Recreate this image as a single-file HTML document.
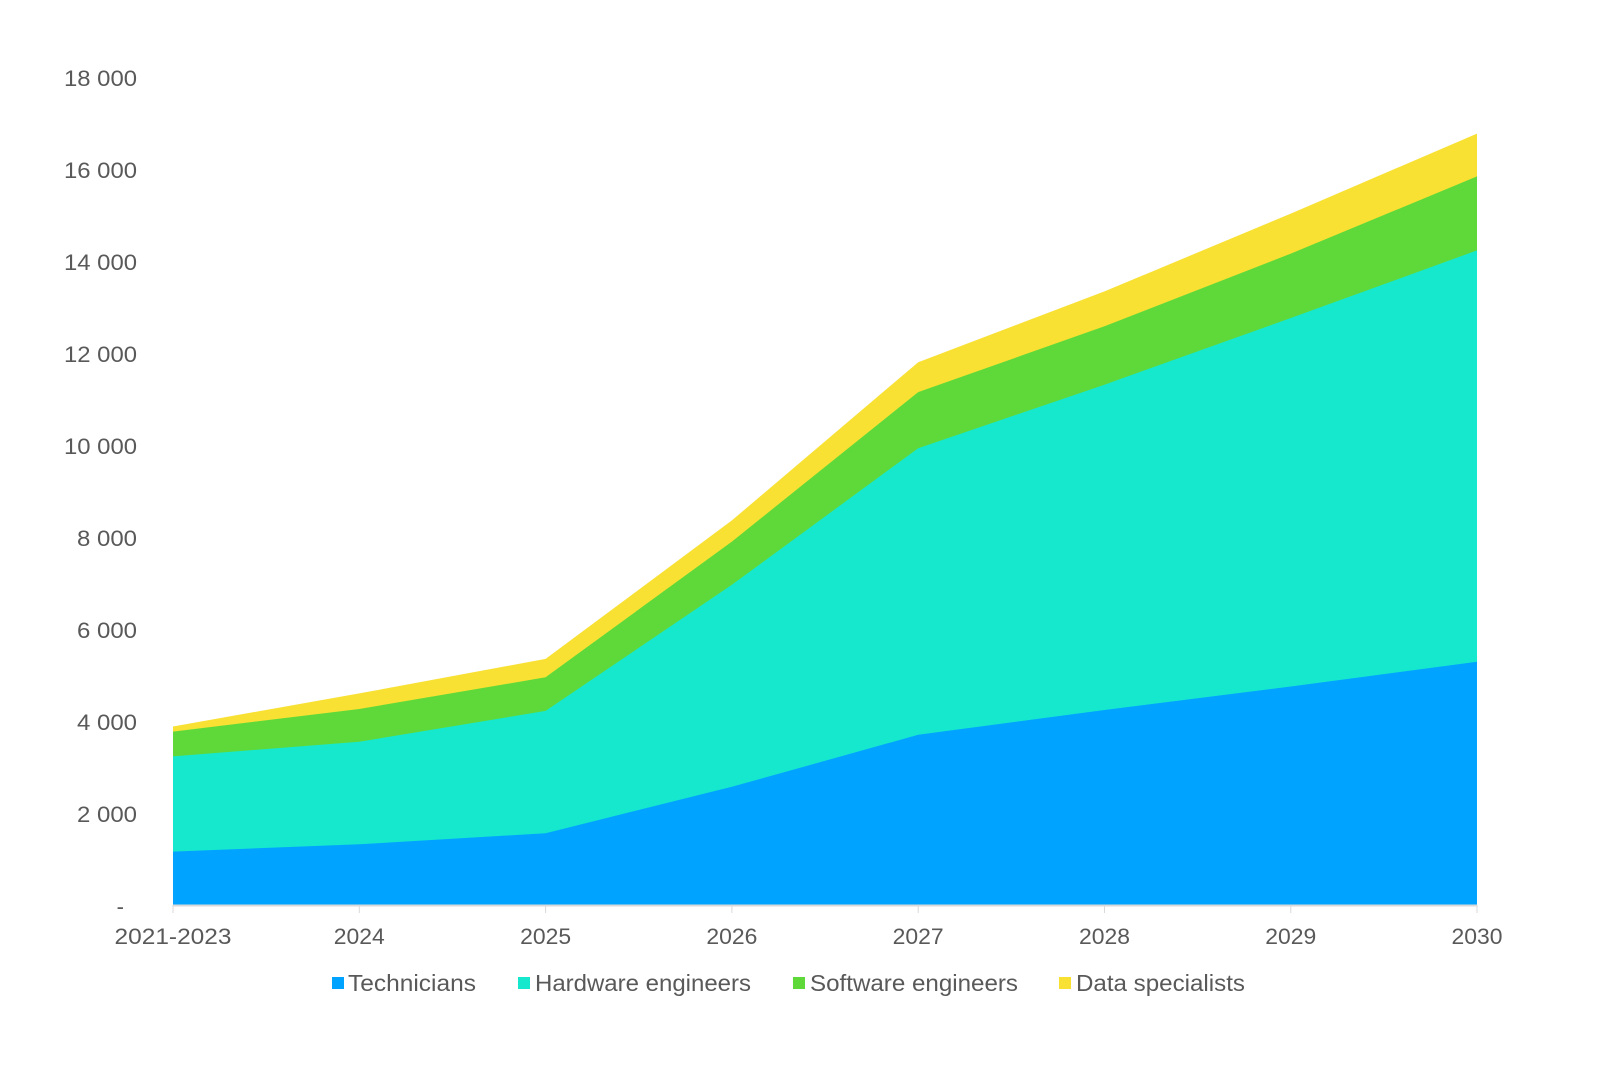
<!DOCTYPE html>
<html><head><meta charset="utf-8"><style>
html,body{margin:0;padding:0;background:#fff;}
svg{display:block;font-family:"Liberation Sans",Arial,sans-serif;}
</style></head><body>
<svg width="1609" height="1066" viewBox="0 0 1609 1066">
<polygon fill="#F8E133" points="173,726.5 359.3,693.4 545.6,658.9 731.9,520.4 918.2,362.2 1104.5,291.4 1290.8,213.6 1477,133.6 1477,905 173,905"/>
<polygon fill="#5FD93A" points="173,731.6 359.3,709 545.6,677.3 731.9,541.6 918.2,392.1 1104.5,326.3 1290.8,253.6 1477,176.4 1477,905 173,905"/>
<polygon fill="#16E8CE" points="173,756.4 359.3,741.7 545.6,710.9 731.9,584.8 918.2,448.2 1104.5,384.7 1290.8,318 1477,250.4 1477,905 173,905"/>
<polygon fill="#00A3FF" points="173,851.6 359.3,844.3 545.6,833.2 731.9,786.8 918.2,734.8 1104.5,710 1290.8,686.5 1477,661.7 1477,905 173,905"/>
<line x1="173" y1="905.5" x2="1477" y2="905.5" stroke="#d9d9d9" stroke-width="2"/>
<g stroke="#d9d9d9" stroke-width="1">
<line x1="173" y1="905" x2="173" y2="913"/><line x1="359.3" y1="905" x2="359.3" y2="913"/><line x1="545.6" y1="905" x2="545.6" y2="913"/><line x1="731.9" y1="905" x2="731.9" y2="913"/><line x1="918.2" y1="905" x2="918.2" y2="913"/><line x1="1104.5" y1="905" x2="1104.5" y2="913"/><line x1="1290.8" y1="905" x2="1290.8" y2="913"/><line x1="1477" y1="905" x2="1477" y2="913"/>
</g>
<g fill="#595959" font-size="22" text-anchor="end" lengthAdjust="spacingAndGlyphs">
<text x="137" y="86" textLength="73" lengthAdjust="spacingAndGlyphs">18 000</text>
<text x="137" y="178" textLength="73" lengthAdjust="spacingAndGlyphs">16 000</text>
<text x="137" y="270" textLength="73" lengthAdjust="spacingAndGlyphs">14 000</text>
<text x="137" y="362" textLength="73" lengthAdjust="spacingAndGlyphs">12 000</text>
<text x="137" y="454" textLength="73" lengthAdjust="spacingAndGlyphs">10 000</text>
<text x="137" y="546" textLength="60" lengthAdjust="spacingAndGlyphs">8 000</text>
<text x="137" y="638" textLength="60" lengthAdjust="spacingAndGlyphs">6 000</text>
<text x="137" y="730" textLength="60" lengthAdjust="spacingAndGlyphs">4 000</text>
<text x="137" y="822" textLength="60" lengthAdjust="spacingAndGlyphs">2 000</text>
<text x="124" y="914">-</text>
</g>
<g fill="#595959" font-size="22" text-anchor="middle">
<text x="173" y="944" textLength="117" lengthAdjust="spacingAndGlyphs">2021-2023</text>
<text x="359.3" y="944" textLength="51" lengthAdjust="spacingAndGlyphs">2024</text>
<text x="545.6" y="944" textLength="51" lengthAdjust="spacingAndGlyphs">2025</text>
<text x="731.9" y="944" textLength="51" lengthAdjust="spacingAndGlyphs">2026</text>
<text x="918.2" y="944" textLength="51" lengthAdjust="spacingAndGlyphs">2027</text>
<text x="1104.5" y="944" textLength="51" lengthAdjust="spacingAndGlyphs">2028</text>
<text x="1290.8" y="944" textLength="51" lengthAdjust="spacingAndGlyphs">2029</text>
<text x="1477" y="944" textLength="51" lengthAdjust="spacingAndGlyphs">2030</text>
</g>
<rect x="332" y="977" width="12" height="12" fill="#00A3FF"/>
<rect x="518" y="977" width="12" height="12" fill="#16E8CE"/>
<rect x="793" y="977" width="12" height="12" fill="#5FD93A"/>
<rect x="1059" y="977" width="12" height="12" fill="#F8E133"/>
<g fill="#595959" font-size="23">
<text x="348" y="991" textLength="128" lengthAdjust="spacingAndGlyphs">Technicians</text>
<text x="535" y="991" textLength="216" lengthAdjust="spacingAndGlyphs">Hardware engineers</text>
<text x="810" y="991" textLength="208" lengthAdjust="spacingAndGlyphs">Software engineers</text>
<text x="1076" y="991" textLength="169" lengthAdjust="spacingAndGlyphs">Data specialists</text>
</g>
</svg>
</body></html>
